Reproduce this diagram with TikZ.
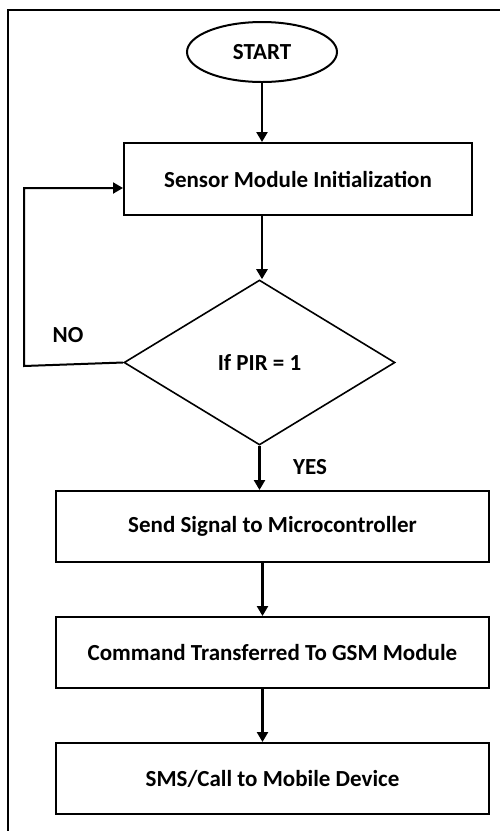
\documentclass[tikz,border=0pt]{standalone}
\usepackage{fontspec}
\setmainfont{Carlito}
\usetikzlibrary{shapes.geometric,arrows.meta}
\begin{document}
\begin{tikzpicture}[x=1pt,y=-1pt,
  every node/.style={font=\fontsize{23}{27}\selectfont\bfseries},
  procbox/.style={draw,line width=2pt,rectangle,inner sep=0pt},
  flow/.style={line width=2.5pt,-{Triangle[length=10pt,width=11pt]}},
  plainline/.style={line width=2pt},
  lbl/.style={inner sep=0pt}]
  \useasboundingbox (0,0) rectangle (499,831);
  \fill[white] (0,0) rectangle (499,831);
  % outer frame
  \draw[line width=1.5pt] (500,10) -- (8,10) -- (8,832);

  % flow chart nodes
  \node[draw,ellipse,line width=2pt,minimum width=150pt,minimum height=60pt,inner sep=0pt] (start) at (262,52) {START};
  \node[procbox,minimum width=348pt,minimum height=72pt] (init) at (298,179) {Sensor Module Initialization};
  \node[draw,diamond,line width=1.6pt,minimum width=271pt,minimum height=165pt,inner sep=0pt] (dec) at (259.5,362.5) {If PIR = 1};
  \node[procbox,minimum width=433pt,minimum height=71pt] (send) at (272.5,526.5) {Send Signal to Microcontroller};
  \node[procbox,minimum width=433pt,minimum height=71pt] (cmd) at (272.5,652.5) {Command Transferred To GSM Module};
  \node[procbox,minimum width=433pt,minimum height=71pt] (sms) at (272.5,778.5) {SMS/Call to Mobile Device};

  % labels
  \node[lbl] (no) at (68,335) {NO};
  \node[lbl] (yes) at (310,467) {YES};

  % connectors
  \draw[flow] (start.south) -- (start.south |- init.north);
  \draw[flow] ([xshift=-36pt]init.south) -- ([xshift=-36pt]init.south |- dec.north);
  \coordinate (loopcorner) at (24,366);
  \draw[plainline,-{Triangle[length=10pt,width=11pt]}] (dec.west) -- (loopcorner) |- ([yshift=-9pt]init.west);
  \draw[flow] (dec.south) -- (dec.south |- send.north);
  \draw[flow] ([xshift=-10pt]send.south) -- ([xshift=-10pt]send.south |- cmd.north);
  \draw[flow] ([xshift=-10pt]cmd.south) -- ([xshift=-10pt]cmd.south |- sms.north);
\end{tikzpicture}
\end{document}
